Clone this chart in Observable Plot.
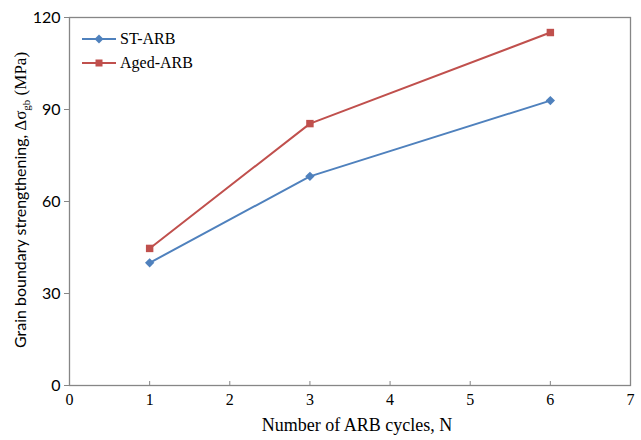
<!DOCTYPE html>
<html>
<head>
<meta charset="utf-8">
<script src="https://cdn.jsdelivr.net/npm/d3@7"></script>
<script src="https://cdn.jsdelivr.net/npm/@observablehq/plot@0.6"></script>
<style>
  body { margin: 0; background: #fff; }
  #wrap { position: relative; width: 641px; height: 440px; }
  #legend { position: absolute; left: 82px; top: 27px; font-family: "Liberation Serif", serif; font-size: 16px; color: #000; }
  #legend div { display: flex; align-items: center; height: 24px; }
  #legend svg { margin-right: 4px; }
</style>
</head>
<body>
<div id="wrap"></div>
<script>
const cycles = [1, 3, 6];
const stARB = [40, 68.2, 92.9];
const agedARB = [44.7, 85.4, 115.1];
const seriesNames = ["ST-ARB", "Aged-ARB"];
const seriesColors = ["#4F81BD", "#C0504D"];
const seriesSymbols = ["diamond2", "square"];
const xTicks = [0, 1, 2, 3, 4, 5, 6, 7];
const yTicks = [0, 30, 60, 90, 120];

const data = [
  ...cycles.map((c, i) => ({x: c, y: stARB[i], s: seriesNames[0]})),
  ...cycles.map((c, i) => ({x: c, y: agedARB[i], s: seriesNames[1]}))
];

const plot = Plot.plot({
  width: 641,
  height: 440,
  marginLeft: 69,
  marginRight: 11,
  marginTop: 17,
  marginBottom: 55,
  style: {background: "#fff", overflow: "visible"},
  x: {domain: [0, 7], ticks: xTicks, label: null},
  y: {domain: [0, 120], ticks: yTicks, label: null},
  color: {domain: seriesNames, range: seriesColors},
  symbol: {domain: seriesNames, range: seriesSymbols},
  marks: [
    Plot.frame({stroke: "#868686", strokeWidth: 1.3}),
    Plot.axisX({ticks: xTicks, tickFormat: d3.format("d"), tickSize: -4, stroke: "#868686", tickPadding: 12, fontSize: 16, fontFamily: "Liberation Serif", color: "#000", label: null}),
    Plot.axisY({ticks: yTicks, tickFormat: d3.format("d"), tickSize: 5, stroke: "#868686", tickPadding: 4, fontSize: 16, fontFamily: "Lato", color: "#000", label: null}),
    Plot.line(data, {x: "x", y: "y", z: "s", stroke: "s", strokeWidth: 2}),
    Plot.dot(data, {x: "x", y: "y", fill: "s", symbol: "s", r: 4.2, stroke: "none"})
  ]
});
plot.setAttribute("font-family", "Liberation Serif");
const wrap = document.getElementById("wrap");
wrap.appendChild(plot);

const svg = d3.select(plot);
// x axis title
svg.append("text")
  .attr("x", 357).attr("y", 431)
  .attr("text-anchor", "middle")
  .style("font-family", "Liberation Serif").style("font-size", "18px").attr("fill", "#000")
  .text("Number of ARB cycles, N");
// y axis title
const yt = svg.append("text")
  .attr("transform", "translate(26,200) rotate(-90)")
  .attr("text-anchor", "middle")
  .attr("font-size", "16").attr("fill", "#000");
yt.append("tspan").attr("font-family", "Lato").text("Grain boundary strengthening, ");
yt.append("tspan").attr("font-family", "Liberation Serif").attr("font-size", "17").text("Δσ");
yt.append("tspan").attr("font-family", "Liberation Serif").attr("font-size", "11").attr("dy", 4).text("gb");
yt.append("tspan").attr("font-family", "Liberation Serif").attr("font-size", "17").attr("dy", -4).text(" (MPa)");

// legend
const legend = document.createElement("div");
legend.id = "legend";
seriesNames.forEach((name, i) => {
  const row = document.createElement("div");
  const sym = seriesSymbols[i] === "diamond2"
    ? `<path d="M17,-4.5 L21.5,0 L17,4.5 L12.5,0 Z" transform="translate(0,7)" fill="${seriesColors[i]}"/>`
    : `<rect x="13.5" y="3.5" width="7" height="7" fill="${seriesColors[i]}"/>`;
  row.innerHTML = `<svg width="34" height="14"><line x1="0" x2="34" y1="7" y2="7" stroke="${seriesColors[i]}" stroke-width="2"/>${sym}</svg><span>${name}</span>`;
  legend.appendChild(row);
});
wrap.appendChild(legend);
</script>
</body>
</html>
